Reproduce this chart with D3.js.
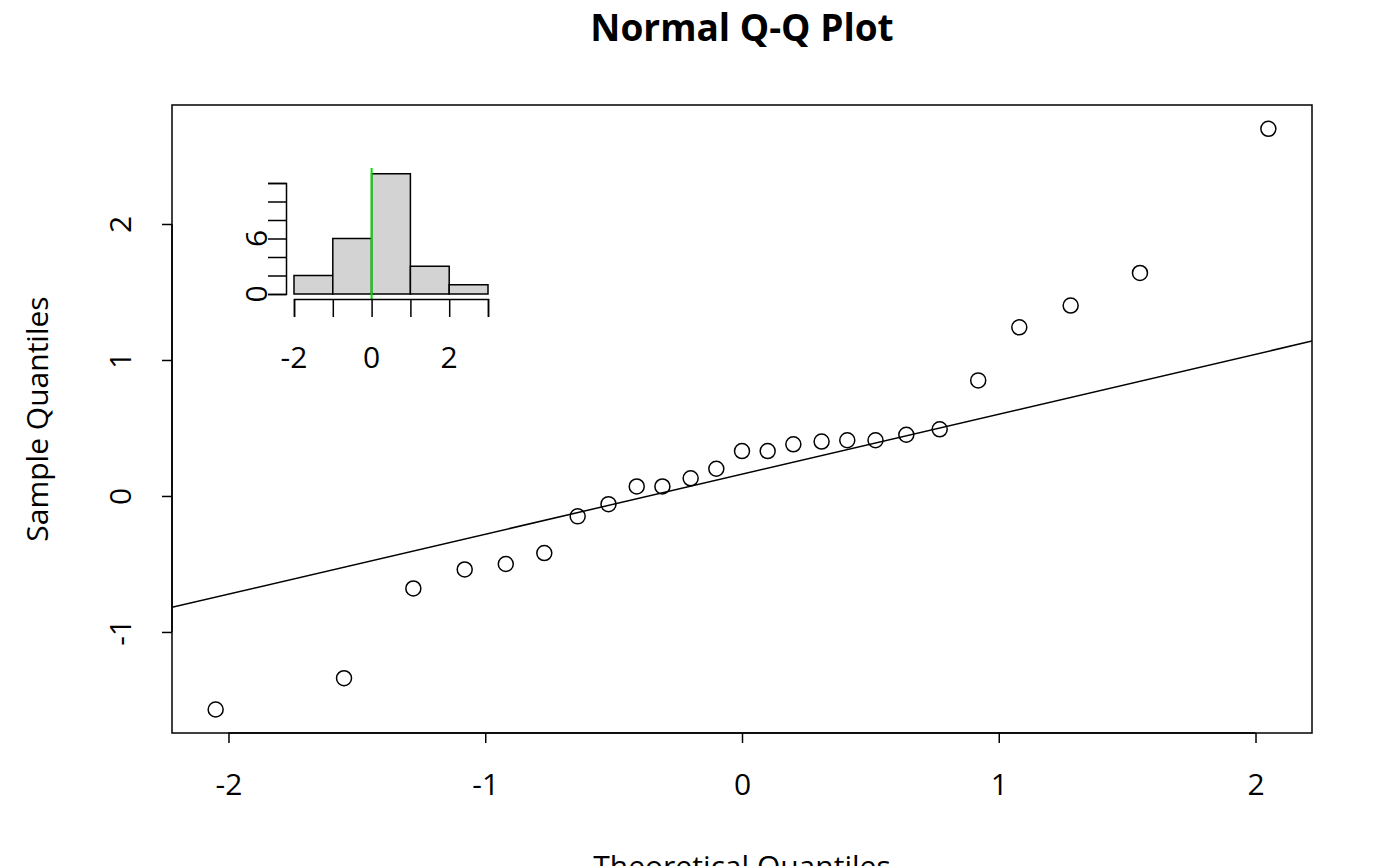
<!DOCTYPE html>
<html><head><meta charset="utf-8">
<script src="https://cdn.jsdelivr.net/npm/d3@7"></script>
<style>body{margin:0;background:#fff}text{font-family:"Open Sans",sans-serif}</style>
</head><body><div id="chart"></div>
<script>
// theoretical and sample quantiles
var theo = [-2.05,-1.55,-1.28,-1.08,-0.92,-0.77,-0.64,-0.52,-0.41,-0.31,-0.2,-0.1,0,0.1,0.2,0.31,0.41,0.52,0.64,0.77,0.92,1.08,1.28,1.55,2.05];
var sample = [-1.57,-1.34,-0.68,-0.54,-0.50,-0.42,-0.15,-0.06,0.07,0.07,0.13,0.20,0.33,0.33,0.38,0.40,0.41,0.41,0.45,0.49,0.85,1.24,1.40,1.64,2.70];
var xTicks = [-2,-1,0,1,2];
var yTicks = [-1,0,1,2];
// qq line
var lineIntercept = 0.16, lineSlope = 0.441;
// inset histogram
var binEdges = [-2,-1,0,1,2,3];
var binCounts = [2,6,13,3,1];
var histXTicks = [-2,-1,0,1,2,3];
var histXLabels = [-2,0,2];
var histYTicks = [0,2,4,6,8,10,12];
var histYLabels = [0,6];

var W = 1400, H = 866, FS = 30;
var fmt = d => String(d); // plain hyphen like R
var svg = d3.select("#chart").append("svg").attr("width", W).attr("height", H);

var x = d3.scaleLinear().domain([-2.22, 2.22]).range([172, 1312]);
var y = d3.scaleLinear().domain([-1.743, 2.875]).range([733, 105]);

svg.append("rect").attr("x",172).attr("y",105).attr("width",1140).attr("height",628)
  .attr("fill","none").attr("stroke","#000").attr("stroke-width",1.5);

svg.append("clipPath").attr("id","pc").append("rect")
  .attr("x",172).attr("y",105).attr("width",1140).attr("height",628);

// axes
var gx = svg.append("g").attr("transform","translate(0,733)")
  .call(d3.axisBottom(x).tickValues(xTicks).tickSize(10).tickFormat(fmt));
gx.select(".domain").attr("d","M"+x(-2)+",0H"+x(2));
gx.selectAll(".tick text").attr("y",62).attr("dy",0);
var gy = svg.append("g").attr("transform","translate(172,0)")
  .call(d3.axisLeft(y).tickValues(yTicks).tickSize(10).tickFormat(fmt));
gy.select(".domain").attr("d","M0,"+y(-1)+"V"+y(2));
gy.selectAll(".tick text").attr("transform","rotate(-90)").attr("x",0).attr("y",-52).attr("dy","0.35em").attr("text-anchor","middle");
svg.selectAll(".tick text").attr("font-size",FS).attr("font-family","Open Sans");
svg.selectAll(".tick line, .domain").attr("stroke-width",1.5);

// qq line
svg.append("line").attr("clip-path","url(#pc)")
  .attr("x1",x(-2.22)).attr("y1",y(lineIntercept+lineSlope*-2.22))
  .attr("x2",x(2.22)).attr("y2",y(lineIntercept+lineSlope*2.22))
  .attr("stroke","#000").attr("stroke-width",1.5);

svg.selectAll("circle.pt").data(theo).enter().append("circle")
  .attr("cx",d=>x(d)).attr("cy",(d,i)=>y(sample[i])).attr("r",7.5)
  .attr("fill","none").attr("stroke","#000").attr("stroke-width",1.5);

// titles
svg.append("text").attr("x",742).attr("y",41).attr("text-anchor","middle")
  .attr("font-size",37).attr("font-weight","bold").text("Normal Q-Q Plot");
svg.append("text").attr("x",742).attr("y",877).attr("text-anchor","middle")
  .attr("font-size",FS).text("Theoretical Quantiles");
svg.append("text").attr("transform","translate(48,419) rotate(-90)").attr("text-anchor","middle")
  .attr("font-size",FS).text("Sample Quantiles");

// inset histogram
var hx = d3.scaleLinear().domain([-2,3]).range([294,488]);
var hy = d3.scaleLinear().domain([0,12]).range([294,183]);
var ins = svg.append("g");
ins.selectAll("rect").data(binCounts).enter().append("rect")
  .attr("x",(d,i)=>hx(binEdges[i])).attr("width",(d,i)=>hx(binEdges[i+1])-hx(binEdges[i]))
  .attr("y",d=>hy(d)).attr("height",d=>hy(0)-hy(d))
  .attr("fill","#d3d3d3").attr("stroke","#000").attr("stroke-width",1.5);
ins.append("line").attr("x1",hx(0)).attr("x2",hx(0)).attr("y1",168).attr("y2",299)
  .attr("stroke","#00e000").attr("stroke-width",2);
ins.append("g").attr("transform","translate(0,299)")
  .call(d3.axisBottom(hx).tickValues(histXTicks).tickSize(18).tickFormat(""));
ins.selectAll("text.hxl").data(histXLabels).enter().append("text")
  .attr("x",d=>hx(d)).attr("y",368).attr("text-anchor","middle").attr("font-size",FS).text(fmt);
ins.append("g").attr("transform","translate(286,0)")
  .call(d3.axisLeft(hy).tickValues(histYTicks).tickSize(18).tickFormat(""));
ins.selectAll("text.hyl").data(histYLabels).enter().append("text")
  .attr("transform",d=>"translate(256,"+hy(d)+") rotate(-90)").attr("dy","0.35em")
  .attr("text-anchor","middle").attr("font-size",FS).text(fmt);
ins.selectAll(".domain").attr("stroke-width",1.5);
ins.selectAll(".tick line").attr("stroke-width",1.5);
</script></body></html>
